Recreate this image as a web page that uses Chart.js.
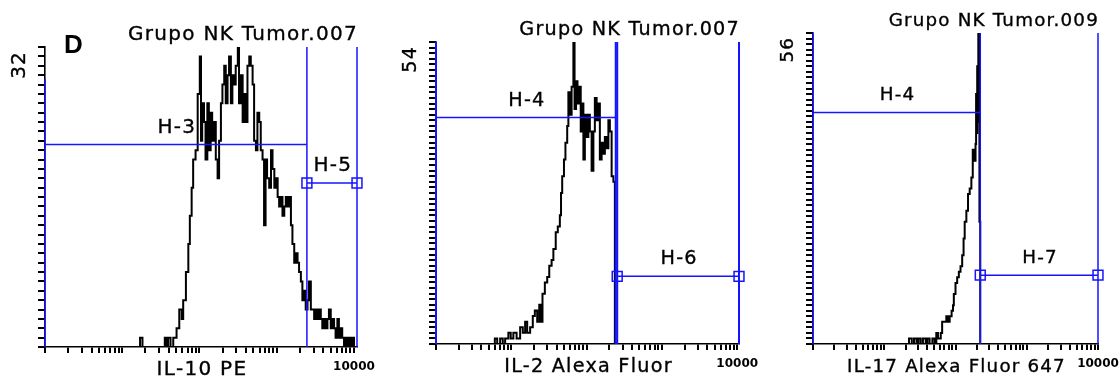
<!DOCTYPE html>
<html>
<head>
<meta charset="utf-8">
<script src="https://cdn.jsdelivr.net/npm/chart.js@4"></script>
<style>
body { margin: 0; background: #fff; }
#wrap { position: relative; width: 1120px; height: 382px; overflow: hidden; }
#wrap canvas { position: absolute; top: 0; }
</style>
</head>
<body>
<div id="wrap">
  <canvas id="c1" width="380" height="382" style="left:0"></canvas>
  <canvas id="c2" width="380" height="382" style="left:380px"></canvas>
  <canvas id="c3" width="360" height="382" style="left:760px"></canvas>
</div>
<script>
// canais (0-1023, escala log de 4 decadas) e contagens
const il10Channels = [0, 309, 315, 323, 392, 397, 403, 408, 416, 425, 436, 445, 453, 458, 467, 475, 480, 486, 491, 499,
  506, 513, 517, 521, 527, 532, 538, 543, 549, 554, 560, 566, 572, 577, 583, 588, 594, 599, 605, 610,
  616, 621, 627, 632, 639, 643, 649, 655, 660, 666, 671, 677, 682, 688, 693, 699, 704, 710, 715, 721,
  726, 731, 736, 743, 749, 754, 760, 765, 771, 776, 782, 787, 793, 798, 804, 809, 815, 820, 826, 831,
  837, 842, 848, 853, 859, 864, 870, 875, 881, 886, 892, 897, 903, 908, 914, 919, 925, 930, 936, 941,
  947, 953, 958, 963, 969, 974, 980, 985, 991, 997, 1002, 1008, 1013, 1019, 1024];
const il10Counts = [0, 0, 1, 0, 0, 1, 0, 1, 0, 1, 2, 4, 3, 5, 8, 11, 14, 17, 20, 21,
  27, 31, 22, 26, 24, 20, 26, 21, 25, 22, 24, 20, 18, 22, 26, 28, 30, 26, 29, 31,
  26, 29, 28, 30, 32, 26, 29, 24, 27, 24, 30, 31, 30, 28, 22, 21, 25, 24, 21, 20,
  13, 20, 18, 17, 21, 19, 17, 18, 16, 15, 16, 14, 15, 16, 15, 16, 13, 11, 9, 10,
  9, 8, 7, 5, 6, 4, 5, 7, 4, 4, 3, 4, 3, 4, 3, 2, 3, 2, 3, 4,
  2, 3, 2, 1, 3, 1, 2, 1, 0, 1, 0, 1, 0, 1, 0];

const il2Channels = [0, 195, 200, 208, 218, 227, 235, 246, 254, 263, 274, 286, 295, 303, 310, 320, 329, 336, 344, 351,
  357, 362, 370, 378, 385, 393, 399, 407, 414, 421, 425, 429, 435, 440, 446, 450, 455, 461, 467, 471,
  476, 481, 486, 492, 496, 501, 506, 512, 518, 523, 529, 535, 540, 546, 552, 557, 563, 569, 574, 580,
  586, 591, 597, 603, 608];
const il2Counts = [0, 0, 1, 0, 1, 0, 1, 2, 1, 2, 1, 3, 2, 4, 2, 3, 5, 6, 4, 7,
  4, 9, 11, 12, 14, 15, 17, 20, 21, 23, 27, 30, 33, 36, 39, 45, 41, 46, 54, 42,
  47, 43, 46, 38, 43, 33, 41, 37, 41, 38, 31, 38, 44, 40, 43, 33, 36, 34, 37, 35,
  40, 38, 30, 29, 0];

const il17Channels = [0, 340, 345, 355, 363, 372, 379, 387, 395, 405, 411, 419, 429, 437, 443, 449, 459, 464, 473, 479,
  486, 491, 498, 503, 506, 512, 518, 524, 530, 536, 541, 545, 551, 557, 563, 569, 574, 579, 584, 586,
  588, 590, 592, 594, 595, 597, 598, 601];
const il17Counts = [0, 0, 1, 0, 1, 0, 1, 0, 1, 0, 1, 0, 1, 0, 2, 1, 2, 4, 4, 5,
  4, 5, 6, 7, 9, 11, 12, 13, 14, 16, 19, 22, 24, 27, 28, 30, 35, 33, 36, 45,
  38, 50, 40, 56, 45, 56, 22, 0];

// marcadores (H-x): inicio, fim e altura
const il10GateNames = ['H-3', 'H-5'];
const il10GateFrom = [0, 868];
const il10GateTo = [868, 1034];
const il10GateLevel = [21.6, 17.5];
const il10Lines = [0, 868, 1034];
const il10LineTops = [28.6, 32, 32];

const il2GateNames = ['H-4', 'H-6'];
const il2GateFrom = [0, 616];
const il2GateTo = [611, 1030];
const il2GateLevel = [40.5, 12.1];
const il2Lines = [0, 611, 616, 1030];
const il2LineTops = [54, 54, 54, 54];

const il17GateNames = ['H-4', 'H-7'];
const il17GateFrom = [0, 601];
const il17GateTo = [601, 1024];
const il17GateLevel = [41.7, 12.4];
const il17Lines = [0, 601, 1024];
const il17LineTops = [56, 56, 56];

const titles = ['Grupo NK Tumor.007', 'Grupo NK Tumor.007', 'Grupo NK Tumor.009'];
const xLabels = ['IL-10 PE', 'IL-2 Alexa Fluor', 'IL-17 Alexa Fluor 647'];
const yMaxValues = [32, 54, 56];
const xMaxChannels = [1034, 1030, 1024];
const tickSteps = [1, 2, 3, 4, 5, 6, 7, 8, 9];
const tickDecades = [1, 10, 100, 1000];
const lastTick = 10000;

const BLUE = '#1414ff';
const toValue = ch => Math.pow(10, ch / 256);

const xTickValues = [];
tickDecades.forEach(d => tickSteps.forEach(s => xTickValues.push(s * d)));
xTickValues.push(lastTick);

// textos desenhados com espacamento entre letras (Chart.js nao tem letterSpacing)
function texto(ctx, s, x, y) {
    ctx.fillText(s, x, y);
    ctx.strokeText(s, x, y);
}

const panelText = {
    id: 'panelText',
    afterDraw(chart, args, o) {
        const ctx = chart.ctx;
        const a = chart.chartArea;
        const xs = chart.scales.x;
        const ys = chart.scales.y;
        const k = o.k;
        const font = (20 * k).toFixed(1) + 'px "DejaVu Sans"';
        ctx.save();
        ctx.fillStyle = '#000';
        ctx.strokeStyle = '#000';
        ctx.lineWidth = 0.35;
        ctx.font = font;
        ctx.letterSpacing = (1.3 * k).toFixed(2) + 'px';
        ctx.textBaseline = 'alphabetic';

        ctx.textAlign = 'right';
        texto(ctx, o.title, a.right + 1, a.top - 7);

        ctx.textAlign = 'center';
        texto(ctx, o.xLabel, (a.left + a.right) / 2 + 1, a.bottom + 28);

        o.gateNames.forEach((name, i) => {
            const x1 = xs.getPixelForValue(toValue(o.gateFrom[i]));
            const x2 = xs.getPixelForValue(toValue(o.gateTo[i]));
            const y = ys.getPixelForValue(o.gateLevel[i]);
            texto(ctx, name, (x1 + x2) / 2 + 1, y - 12);
        });

        if (o.tag) {
            ctx.letterSpacing = '0px';
            ctx.textAlign = 'left';
            ctx.font = 'bold 26px "Liberation Sans"';
            ctx.fillText(o.tag, 64, 53);
        }

        ctx.letterSpacing = (1.2 * k).toFixed(2) + 'px';
        ctx.font = font;
        ctx.translate(a.left - 25, a.top + 4);
        ctx.rotate(-Math.PI / 2);
        ctx.textAlign = 'right';
        ctx.textBaseline = 'middle';
        texto(ctx, o.yLabel, 0, 0);
        ctx.restore();
    }
};

function criarGrafico(id, n, channels, counts, gate, box, tag) {
    const datasets = [];

    gate.names.forEach((name, i) => {
        datasets.push({
            data: [{ x: toValue(gate.from[i]), y: gate.level[i] }, { x: toValue(gate.to[i]), y: gate.level[i] }],
            borderColor: BLUE,
            borderWidth: 1.5,
            pointStyle: 'rect',
            pointRadius: i > 0 ? 7 : 0,
            pointBorderColor: BLUE,
            pointBorderWidth: 1.5,
            pointBackgroundColor: 'rgba(0,0,0,0)',
            clip: false
        });
    });

    gate.lines.forEach((ch, i) => {
        datasets.push({
            data: [{ x: toValue(ch), y: 0 }, { x: toValue(ch), y: gate.tops[i] }],
            borderColor: BLUE,
            borderWidth: box.lineWidth,
            pointRadius: 0,
            clip: false
        });
    });

    const hist = channels.map((ch, i) => ({ x: toValue(ch), y: counts[i] }));
    hist.push({ x: toValue(xMaxChannels[n]), y: 0 });
    datasets.push({
        data: hist,
        borderColor: '#000',
        borderWidth: 2,
        stepped: true,
        pointRadius: 0
    });

    return new Chart(document.getElementById(id), {
        type: 'line',
        data: { datasets },
        plugins: [panelText],
        options: {
            responsive: false,
            animation: false,
            events: [],
            layout: { padding: { left: 0, top: box.top, right: box.right, bottom: 0 } },
            plugins: {
                legend: { display: false },
                tooltip: { enabled: false },
                panelText: {
                    k: box.k,
                    title: titles[n],
                    xLabel: xLabels[n],
                    yLabel: String(yMaxValues[n]),
                    gateNames: gate.names,
                    gateFrom: gate.from,
                    gateTo: gate.to,
                    gateLevel: gate.level,
                    tag: tag
                }
            },
            scales: {
                x: {
                    type: 'logarithmic',
                    min: 1,
                    max: toValue(xMaxChannels[n]),
                    afterBuildTicks: s => { s.ticks = xTickValues.map(v => ({ value: v })); },
                    afterFit: s => { s.height = box.xHeight; s.paddingLeft = 0; s.paddingRight = 0; },
                    border: { display: true, color: '#000', width: 1.6 },
                    grid: { display: true, drawOnChartArea: false, drawTicks: true, tickLength: 6, lineWidth: 2, color: '#000', tickColor: '#000' },
                    ticks: {
                        autoSkip: false,
                        maxRotation: 0,
                        minRotation: 0,
                        padding: 7,
                        color: '#000',
                        font: { family: 'DejaVu Sans', weight: 'bold', size: 12 },
                        callback: v => (v === lastTick ? String(lastTick) : '')
                    }
                },
                y: {
                    min: 0,
                    max: yMaxValues[n],
                    afterFit: s => { s.width = box.left; s.paddingTop = 0; s.paddingBottom = 0; },
                    border: { display: true, color: '#000', width: 1.6 },
                    grid: { display: true, drawOnChartArea: false, drawTicks: true, tickLength: 7, lineWidth: 2, color: '#000', tickColor: '#000' },
                    ticks: { stepSize: 1, autoSkip: false, font: { size: 6 }, callback: () => '' }
                }
            }
        }
    });
}

criarGrafico('c1', 0, il10Channels, il10Counts,
    { names: il10GateNames, from: il10GateFrom, to: il10GateTo, level: il10GateLevel, lines: il10Lines, tops: il10LineTops },
    { left: 45, top: 47, right: 23, xHeight: 35, lineWidth: 1.5, k: 1 }, 'D');

criarGrafico('c2', 1, il2Channels, il2Counts,
    { names: il2GateNames, from: il2GateFrom, to: il2GateTo, level: il2GateLevel, lines: il2Lines, tops: il2LineTops },
    { left: 56, top: 42, right: 21, xHeight: 38, lineWidth: 2, k: 0.96 }, null);

criarGrafico('c3', 2, il17Channels, il17Counts,
    { names: il17GateNames, from: il17GateFrom, to: il17GateTo, level: il17GateLevel, lines: il17Lines, tops: il17LineTops },
    { left: 53, top: 33, right: 22, xHeight: 38, lineWidth: 1.5, k: 0.915 }, null);
</script>
</body>
</html>
